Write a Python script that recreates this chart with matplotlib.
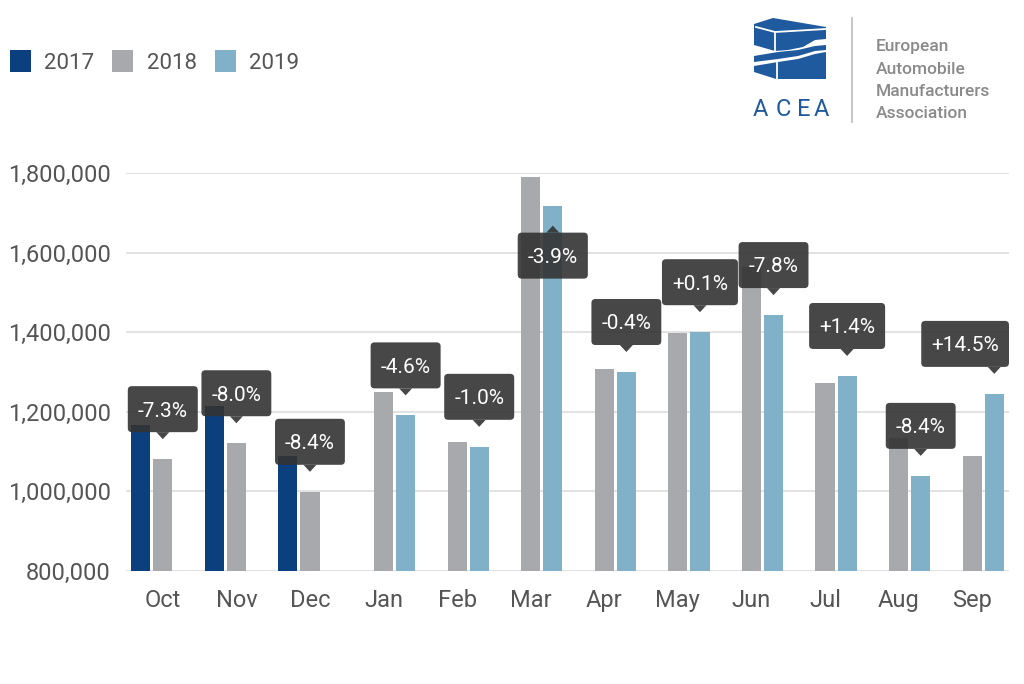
import matplotlib
matplotlib.use("Agg")
import matplotlib.pyplot as plt
import matplotlib.transforms as mtransforms
from matplotlib.patches import Patch, Polygon, FancyBboxPatch
from matplotlib.lines import Line2D
from matplotlib.ticker import FuncFormatter
import numpy as np

# ---------------- data ----------------
months = ["Oct", "Nov", "Dec", "Jan", "Feb", "Mar", "Apr", "May", "Jun", "Jul", "Aug", "Sep"]
years = ["2017", "2018", "2019"]
v2017 = [1167000, 1215000, 1089000, None, None, None, None, None, None, None, None, None]
v2018 = [1081000, 1121000, 999000, 1251000, 1124000, 1791000, 1307000, 1399000, 1565000, 1272000, 1135000, 1089000]
v2019 = [None, None, None, 1191000, 1112000, 1718000, 1300000, 1400000, 1443000, 1290000, 1039000, 1245000]
changes = ["-7.3%", "-8.0%", "-8.4%", "-4.6%", "-1.0%", "-3.9%", "-0.4%", "+0.1%", "-7.8%", "+1.4%", "-8.4%", "+14.5%"]
labels_below = ["Mar"]
yticks = [800000, 1000000, 1200000, 1400000, 1600000, 1800000]

colors = {"2017": "#0b3f7e", "2018": "#a8a9ad", "2019": "#80b1c8"}

plt.rcParams["font.family"] = ["Roboto", "DejaVu Sans"]

fig = plt.figure(figsize=(10.24, 6.84), dpi=100)
fig.patch.set_facecolor("white")
W, H = 1024, 684
ax = fig.add_axes([126 / W, (H - 571) / H, 883 / W, 398 / H])

x = np.arange(len(months))
slot = 0.30
bw = 0.26
series = [v2017, v2018, v2019]
for i, (yr, vals) in enumerate(zip(years, series)):
    xs = [xi + (i - 1) * slot for xi, v in zip(x, vals) if v is not None]
    hs = [v - 800000 for v in vals if v is not None]
    ax.bar(xs, hs, width=bw, bottom=800000, color=colors[yr], zorder=3, linewidth=0)

ax.set_xlim(-0.5, len(months) - 0.5)
ax.set_ylim(800000, 1800000)
ax.set_yticks(yticks)
ax.yaxis.set_major_formatter(FuncFormatter(lambda v, p: f"{int(v):,}"))
ax.set_xticks(x)
ax.set_xticklabels(months)
ax.tick_params(axis="both", length=0, labelsize=17, colors="#555555")
ax.tick_params(axis="y", pad=11)
ax.tick_params(axis="x", pad=13)
ax.grid(axis="y", color="#dddddd", linewidth=1.2, zorder=0)
ax.set_axisbelow(True)
for s in ax.spines.values():
    s.set_visible(False)

# ---------------- change labels (callout boxes) ----------------
box_fc = "#333333"
box_alpha = 0.9
fs = 15
box_h = 46
hpad = 10
gap = 20      # distance from bar top to pointer tip
tri_h = 7
tri_w = 13
fig.canvas.draw()
renderer = fig.canvas.get_renderer()
axbb = ax.get_window_extent()
for i, m in enumerate(months):
    newer = v2019[i] if v2019[i] is not None else v2018[i]
    off = 1 if v2019[i] is not None else 0
    xi = x[i] + off * slot
    below = m in labels_below
    px, py = ax.transData.transform((xi, newer))
    base = mtransforms.Affine2D().translate(px, py)
    if below:
        tip = -gap
        edge = tip - tri_h
        y0 = edge - box_h
    else:
        tip = gap
        edge = tip + tri_h
        y0 = edge
    cy = y0 + box_h / 2
    t = ax.text(0, 0, changes[i], color="white", fontsize=fs, ha="center", va="baseline", zorder=7)
    tw = t.get_window_extent(renderer).width
    bwid = tw + 2 * hpad
    x0 = -bwid / 2
    # keep box inside plot area horizontally
    if px + x0 + bwid > axbb.x1:
        x0 = axbb.x1 - px - bwid
    cap = 0.711 * fs * 100 / 72
    t.set_transform(base)
    t.set_position((x0 + bwid / 2, cy - cap / 2))
    box = FancyBboxPatch((x0, y0), bwid, box_h, boxstyle="round,pad=0,rounding_size=4",
                         facecolor=box_fc, edgecolor="none", alpha=box_alpha, transform=base,
                         zorder=6, clip_on=False)
    ax.add_patch(box)
    tri = Polygon([(-tri_w / 2, edge), (tri_w / 2, edge), (0, tip)], closed=True,
                  facecolor=box_fc, edgecolor="none", alpha=box_alpha, transform=base,
                  zorder=6, clip_on=False)
    ax.add_patch(tri)

# ---------------- legend ----------------
handles = [Patch(facecolor=colors[y], edgecolor="none", label=y) for y in years]
fig.legend(handles=handles, loc="upper left", bbox_to_anchor=(10 / W, 1 - 50 / H), ncol=3,
           frameon=False, fontsize=16, handlelength=0.95, handleheight=1.15, handletextpad=0.6,
           columnspacing=0.8, labelcolor="#555555", borderaxespad=0, borderpad=0)

# ---------------- ACEA logo ----------------
blue = "#1f5a9e"
def fp(pts):
    return [(px_ / W, 1 - py_ / H) for px_, py_ in pts]

logo_shapes = [
    [(754, 24), (773, 18), (826, 27), (826, 39), (815, 40), (803, 47), (788, 50), (775, 51), (754, 45)],
    [(754, 56), (778, 52), (798, 50), (815, 46), (826, 45), (826, 50), (815, 51), (798, 56), (778, 59), (754, 62)],
    [(754, 66), (778, 62), (798, 59), (815, 54), (826, 52), (826, 79), (776, 79), (754, 72)],
]
for pts in logo_shapes:
    fig.patches.append(Polygon(fp(pts), closed=True, facecolor=blue, edgecolor="none",
                               transform=fig.transFigure, figure=fig))
for seg in [[(756, 27), (775, 32)], [(775, 32), (826, 29)], [(775, 32), (775, 51)], [(777, 63), (777, 79)]]:
    (xa, ya), (xb, yb) = seg
    fig.lines.append(Line2D([xa / W, xb / W], [1 - ya / H, 1 - yb / H], color="white", linewidth=1.3,
                            transform=fig.transFigure, figure=fig))
for ch, cx in zip("ACEA", [760, 783, 804, 821]):
    fig.text(cx / W, 1 - 110 / H, ch, color=blue, fontsize=17, ha="center", va="center")
fig.lines.append(Line2D([852 / W, 852 / W], [1 - 18 / H, 1 - 122 / H], color="#bbbbbb",
                        linewidth=1.2, transform=fig.transFigure, figure=fig))
for k, line in enumerate(["European", "Automobile", "Manufacturers", "Association"]):
    fig.text(876 / W, 1 - (47 + 22 * k) / H, line, color="#8a8a8a", fontsize=12.5,
             fontweight="medium", ha="left", va="center")

fig.savefig("out.png", dpi=100, facecolor="white")
